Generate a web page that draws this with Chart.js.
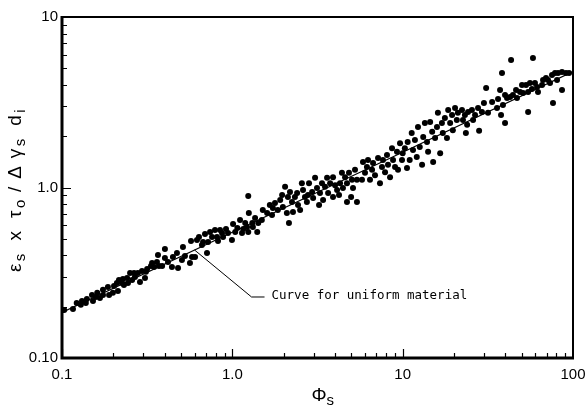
<!DOCTYPE html>
<html>
<head>
<meta charset="utf-8">
<script src="https://cdn.jsdelivr.net/npm/chart.js@4.4.1/dist/chart.umd.min.js"></script>
<style>
  html, body { margin: 0; padding: 0; background: #fff; }
  #wrap { width: 585px; height: 408px; }
</style>
</head>
<body>
<div id="wrap"><canvas id="chart" width="585" height="408"></canvas></div>
<script>
const phiValues = [
  0.103, 0.116, 0.122, 0.129, 0.131, 0.138, 0.140, 0.150, 0.152, 0.158,
  0.161, 0.167, 0.174, 0.174, 0.186, 0.189, 0.199, 0.202, 0.210, 0.213,
  0.216, 0.225, 0.228, 0.231, 0.241, 0.244, 0.251, 0.258, 0.265, 0.268,
  0.279, 0.287, 0.295, 0.307, 0.311, 0.316, 0.333, 0.338, 0.347, 0.361,
  0.366, 0.371,
  0.387, 0.402, 0.402, 0.419, 0.442, 0.448, 0.473, 0.480, 0.506, 0.513,
  0.527, 0.564, 0.572, 0.580, 0.604, 0.620, 0.637, 0.663, 0.673, 0.691,
  0.710, 0.720, 0.740, 0.760, 0.791, 0.813, 0.824, 0.847, 0.870, 0.882,
  0.918, 0.943, 0.995, 1.01, 1.04, 1.07, 1.11, 1.14, 1.16, 1.19,
  1.22, 1.24, 1.24, 1.25, 1.31, 1.32, 1.36, 1.40, 1.42,
  1.49, 1.51, 1.60, 1.66, 1.71, 1.73, 1.78, 1.85, 1.91, 1.96,
  1.98, 2.04, 2.09, 2.12, 2.15, 2.18, 2.24, 2.27, 2.33, 2.40,
  2.43, 2.50, 2.56, 2.60, 2.67, 2.74, 2.78, 2.82, 2.94, 2.98,
  3.06, 3.14, 3.23, 3.27, 3.36, 3.41, 3.50, 3.60, 3.65, 3.75,
  3.90, 3.90, 4.01, 4.12, 4.23, 4.29, 4.40, 4.46, 4.59, 4.71,
  4.71, 4.84, 4.98, 5.04, 5.11, 5.25, 5.39, 5.39,
  5.77, 5.85, 6.01, 6.17, 6.26, 6.43, 6.61, 6.70, 6.88, 7.17,
  7.36, 7.56, 7.66, 7.88, 8.09, 8.20, 8.43, 8.66, 8.78, 9.02,
  9.26, 9.39, 9.65, 9.91, 10.0, 10.3, 10.6, 10.7, 11.0, 11.3,
  11.5, 11.8, 12.1, 12.3, 12.6, 13.0, 13.2, 13.5, 13.9, 14.1,
  14.5, 14.9, 15.1, 15.5, 15.9, 16.1, 16.6, 17.0, 17.2, 17.7,
  18.2, 18.5, 19.0, 19.5, 19.7, 20.3, 20.8, 21.1,
  22.3, 22.6, 23.2, 23.9, 23.5, 24.2, 25.5, 25.9, 26.6, 27.7,
  28.1, 29.2, 30.0, 30.9, 31.7, 33.5, 35.8, 36.3, 37.3, 37.8,
  38.3, 38.8, 39.9, 39.9, 41.0, 42.7, 43.3, 44.4, 46.3, 46.9,
  48.9, 50.2, 50.9, 53.0, 54.5, 54.5, 55.9, 57.4, 58.2, 59.8,
  61.5, 62.3, 65.8, 66.7, 69.4, 71.3, 73.3, 75.3, 76.3, 78.4,
  80.6, 81.7, 86.2, 86.2, 91.0, 94.8
];
const epsValues = [
  0.191, 0.194, 0.210, 0.205, 0.216, 0.210, 0.222, 0.234, 0.216, 0.228,
  0.241, 0.225, 0.251, 0.234, 0.261, 0.234, 0.241, 0.264, 0.275, 0.247,
  0.287, 0.275, 0.291, 0.268, 0.295, 0.275, 0.315, 0.287, 0.315, 0.299,
  0.315, 0.279, 0.324, 0.295, 0.320, 0.333, 0.346, 0.361, 0.342, 0.366,
  0.402, 0.346,
  0.346, 0.386, 0.436, 0.366, 0.342, 0.391, 0.413, 0.337, 0.376, 0.448,
  0.396, 0.361, 0.486, 0.391, 0.391, 0.492, 0.513, 0.460, 0.479, 0.534,
  0.413, 0.479, 0.548, 0.513, 0.563, 0.513, 0.486, 0.563, 0.541, 0.513,
  0.571, 0.541, 0.492, 0.611, 0.548, 0.579, 0.645, 0.541, 0.571, 0.619,
  0.587, 0.548, 0.891, 0.709, 0.619, 0.587, 0.662, 0.548, 0.619,
  0.645, 0.738, 0.709, 0.789, 0.690, 0.758, 0.811, 0.738, 0.845, 0.904,
  0.769, 1.01, 0.709, 0.880, 0.619, 0.941, 0.822, 0.718, 0.880, 0.928,
  0.789, 0.738, 1.06, 0.967, 0.880, 0.822, 0.904, 1.06, 0.941, 0.868,
  1.14, 0.993, 0.789, 0.928, 1.06, 0.845, 1.01, 1.14, 0.928, 1.06,
  0.880, 1.15, 1.03, 0.967, 0.904, 1.06, 1.22, 0.993, 1.15, 0.822,
  1.06, 1.22, 0.880, 1.11, 0.993, 1.27, 0.822, 1.11,
  1.11, 1.41, 1.22, 1.32, 1.45, 1.11, 1.27, 1.39, 1.18, 1.49,
  1.06, 1.32, 1.45, 1.23, 1.55, 1.36, 1.15, 1.70, 1.45, 1.32,
  1.62, 1.27, 1.82, 1.45, 1.59, 1.70, 1.30, 1.85, 1.45, 2.09,
  1.66, 1.90, 1.51, 2.26, 1.73, 1.36, 1.98, 2.39, 1.85, 1.62,
  2.42, 2.12, 1.41, 1.95, 2.26, 2.74, 1.59, 2.39, 2.09, 2.56,
  1.95, 2.85, 2.39, 2.66, 2.17, 2.93, 2.49, 2.74,
  2.85, 2.49, 2.66, 2.33, 2.09, 2.77, 2.85, 2.49, 2.66, 2.93,
  2.15, 2.77, 3.13, 3.83, 2.74, 3.17, 2.93, 3.30, 3.73, 2.66,
  4.70, 3.05, 2.39, 3.49, 3.35, 3.40, 5.60, 3.49, 3.73, 3.35,
  3.63, 3.99, 3.58, 3.99, 2.77, 3.63, 4.10, 3.78, 5.75, 4.10,
  3.88, 3.63, 3.99, 4.27, 4.39, 4.27, 4.10, 4.57, 3.13, 4.70,
  4.27, 4.70, 3.73, 4.76, 4.70, 4.70
];

// "curve for uniform material" (straight on log-log axes)
const curvePhi = [0.1, 1, 10, 100];
const curveEps = [0.185, 0.546, 1.61, 4.78];

const xTickValues = [0.1, 1, 10, 100];
const xTickText = ["0.1", "1.0", "10", "100"];
const yTickValues = [0.1, 1, 10];
const yTickText = ["0.10", "1.0", "10"];

const curveLabel = "Curve for uniform material";
const curveLabelAt = [0.6, 0.43]; // where the leader touches the curve

const scatterData = phiValues.map((p, i) => ({ x: p, y: epsValues[i] }));
const curveData = curvePhi.map((p, i) => ({ x: p, y: curveEps[i] }));

function decadeLabel(value, vals, texts) {
  for (let i = 0; i < vals.length; i++) {
    if (Math.abs(Math.log10(value) - Math.log10(vals[i])) < 1e-6) return texts[i];
  }
  return "";
}

// draws a line of text rotated 90deg, with subscripts
function drawVerticalRich(ctx, cx, cy, parts, mainFont, subFont, spacing) {
  ctx.save();
  ctx.translate(cx, cy);
  ctx.rotate(-Math.PI / 2);
  let total = 0;
  for (const [t, sub] of parts) {
    ctx.font = sub ? subFont : mainFont;
    total += ctx.measureText(t).width + spacing;
  }
  let pos = -total / 2;
  ctx.textBaseline = "alphabetic";
  for (const [t, sub] of parts) {
    ctx.font = sub ? subFont : mainFont;
    ctx.fillText(t, pos, sub ? 4 : 0);
    pos += ctx.measureText(t).width + spacing;
  }
  ctx.restore();
}

const axesPlugin = {
  id: "axesDecor",
  afterDraw(chart) {
    const { ctx, chartArea: a, scales: { x, y } } = chart;
    ctx.save();
    ctx.strokeStyle = "#000";
    ctx.fillStyle = "#000";

    // inward tick marks
    ctx.lineWidth = 1.2;
    ctx.beginPath();
    for (const d of [0.1, 1, 10]) {
      for (let m = 1; m <= 9; m++) {
        const px = Math.round(x.getPixelForValue(m * d)) + 0.5;
        const len = m === 1 ? 9 : 5;
        ctx.moveTo(px, a.bottom);
        ctx.lineTo(px, a.bottom - len);
      }
    }
    for (const d of [0.1, 1]) {
      for (let m = 1; m <= 9; m++) {
        const py = Math.round(y.getPixelForValue(m * d)) + 0.5;
        const len = m === 1 ? 9 : 5;
        ctx.moveTo(a.left, py);
        ctx.lineTo(a.left + len, py);
      }
    }
    ctx.stroke();

    // frame
    ctx.lineWidth = 3;
    ctx.beginPath();
    ctx.moveTo(a.left, a.top - 1);
    ctx.lineTo(a.left, a.bottom);
    ctx.lineTo(a.right + 1, a.bottom);
    ctx.stroke();
    ctx.lineWidth = 2;
    ctx.beginPath();
    ctx.moveTo(a.left, a.top);
    ctx.lineTo(a.right, a.top);
    ctx.lineTo(a.right, a.bottom);
    ctx.stroke();

    // leader + label
    const ax = x.getPixelForValue(curveLabelAt[0]);
    const ay = y.getPixelForValue(curveLabelAt[1]);
    ctx.lineWidth = 1;
    ctx.beginPath();
    ctx.moveTo(ax, ay);
    ctx.lineTo(ax + 57, ay + 47);
    ctx.lineTo(ax + 70, ay + 47);
    ctx.stroke();
    ctx.font = '12.5px "DejaVu Sans Mono"';
    ctx.textBaseline = "middle";
    ctx.textAlign = "left";
    ctx.fillText(curveLabel, ax + 77, ay + 46);

    // x title: Phi_s
    const cx = (a.left + a.right) / 2;
    ctx.textBaseline = "alphabetic";
    ctx.font = '19px "Liberation Sans"';
    ctx.fillText("\u03A6", cx - 6, 401);
    ctx.font = '15px "Liberation Sans"';
    ctx.fillText("s", cx + 9, 405);

    // y title
    drawVerticalRich(ctx, 21, (a.top + a.bottom) / 2 + 2, [
      ["\u03B5", false], ["s", true], ["  x  ", false], ["\u03C4", false], ["o", true],
      [" / ", false], ["\u0394", false], [" \u03B3", false], ["s", true],
      ["  d", false], ["i", true]
    ], '19px "Liberation Sans"', '15px "Liberation Sans"', 2.5);

    ctx.restore();
  }
};

const chart = new Chart(document.getElementById("chart").getContext("2d"), {
  type: "scatter",
  data: {
    datasets: [
      {
        label: "data",
        data: scatterData,
        backgroundColor: "#000",
        borderWidth: 0,
        pointRadius: 3,
        pointHoverRadius: 3
      },
      {
        type: "line",
        label: "curve",
        data: curveData,
        borderColor: "#000",
        borderWidth: 1.2,
        pointRadius: 0,
        fill: false,
        tension: 0
      }
    ]
  },
  options: {
    responsive: false,
    animation: false,
    events: [],
    layout: { padding: { top: 17, right: 12, left: 0, bottom: 0 } },
    plugins: {
      legend: { display: false },
      tooltip: { enabled: false }
    },
    scales: {
      x: {
        type: "logarithmic",
        min: 0.1,
        max: 100,
        grid: { display: false, drawTicks: false },
        border: { display: false },
        ticks: {
          autoSkip: false,
          maxRotation: 0,
          padding: 8,
          color: "#000",
          font: { family: "Liberation Sans", size: 15 },
          callback: v => decadeLabel(v, xTickValues, xTickText)
        },
        afterFit: s => { s.height = 50; s.paddingLeft = 0; s.paddingRight = 0; }
      },
      y: {
        type: "logarithmic",
        min: 0.1,
        max: 10,
        grid: { display: false, drawTicks: false },
        border: { display: false },
        ticks: {
          autoSkip: false,
          padding: 4,
          color: "#000",
          font: { family: "Liberation Sans", size: 15 },
          callback: v => decadeLabel(v, yTickValues, yTickText)
        },
        afterFit: s => { s.width = 62; s.paddingTop = 0; s.paddingBottom = 0; }
      }
    }
  },
  plugins: [axesPlugin]
});
</script>
</body>
</html>
